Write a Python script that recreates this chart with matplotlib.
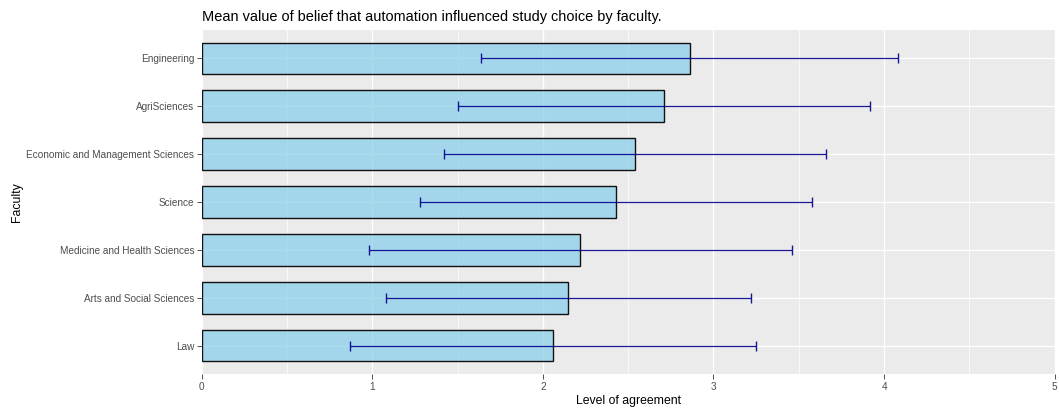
import numpy as np
import matplotlib.pyplot as plt

plt.rcParams['font.family'] = ['Liberation Sans', 'DejaVu Sans']

# faculty means and standard deviations (top to bottom)
faculties = ['Engineering', 'AgriSciences', 'Economic and Management Sciences',
             'Science', 'Medicine and Health Sciences', 'Arts and Social Sciences', 'Law']
mean_vals = [2.86, 2.71, 2.54, 2.43, 2.22, 2.15, 2.06]
sd_vals = [1.22, 1.21, 1.12, 1.15, 1.24, 1.07, 1.19]
x_ticks = [0, 1, 2, 3, 4, 5]

fig = plt.figure(figsize=(10.59, 4.08), dpi=100)
ax = fig.add_axes([0.1905, 0.0824, 0.8054, 0.8451])

ypos = np.arange(len(faculties), 0, -1)

ax.set_facecolor('#EBEBEB')
for s in ax.spines.values():
    s.set_visible(False)

# grid, ggplot style
for v in np.arange(0.5, 5, 1):
    ax.axvline(v, color='white', lw=0.5, zorder=0)
for v in x_ticks:
    ax.axvline(v, color='white', lw=1.0, zorder=0)
for y in ypos:
    ax.axhline(y, color='white', lw=1.0, zorder=0)

ax.barh(ypos, mean_vals, height=0.66, color='#87CEEB', alpha=0.7,
        edgecolor='none', zorder=2)
ax.barh(ypos, mean_vals, height=0.66, color='none', edgecolor='#111111',
        linewidth=1.0, zorder=3)
ax.errorbar(mean_vals, ypos, xerr=sd_vals, fmt='none', ecolor='#00008B',
            elinewidth=0.9, capsize=3.4, capthick=1.0, alpha=0.9, zorder=4)

ax.set_xlim(0, 5)
ax.set_ylim(0.4, len(faculties) + 0.6)
ax.set_xticks(x_ticks)
ax.set_xticklabels([str(t) for t in x_ticks])
ax.set_yticks(ypos)
ax.set_yticklabels(faculties)
ax.tick_params(axis='both', length=3.5, width=0.6, color='#333333',
               labelsize=7.2, labelcolor='#4D4D4D', pad=2)

ax.set_xlabel('Level of agreement', fontsize=8.8, labelpad=2)
ax.set_ylabel('Faculty', fontsize=8.8, labelpad=2)
ax.set_title('Mean value of belief that automation influenced study choice by faculty.',
             fontsize=10.45, loc='left', pad=6)

fig.savefig('out.png', dpi=100)
